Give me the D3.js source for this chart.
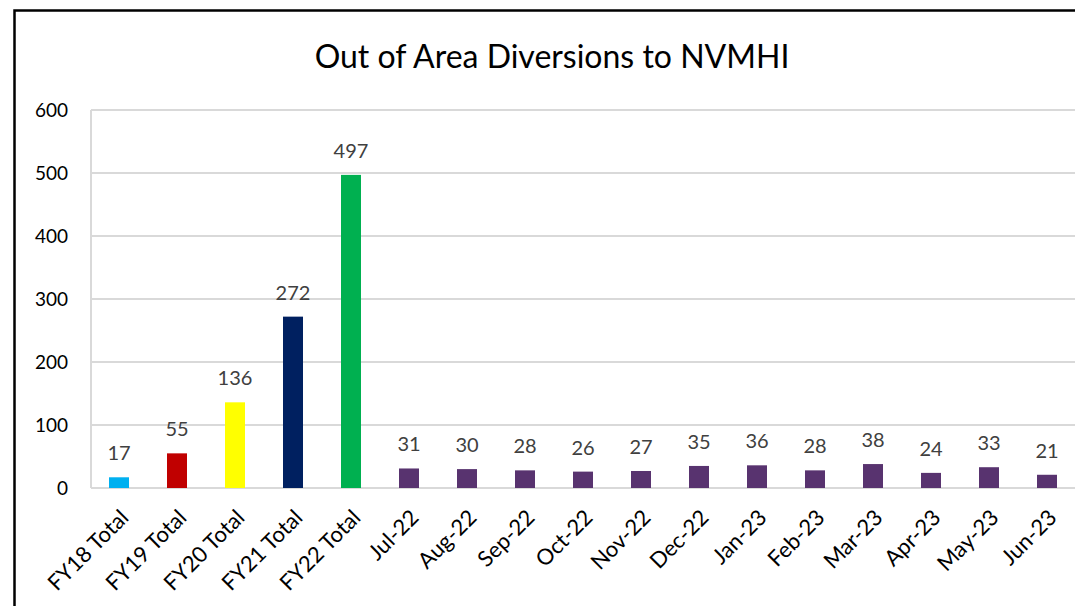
<!DOCTYPE html>
<html>
<head>
<meta charset="utf-8">
<script src="https://cdnjs.cloudflare.com/ajax/libs/d3/7.8.5/d3.min.js"></script>
<style>
  body { margin: 0; background: #fff; }
  svg text { font-family: Lato, "Open Sans", sans-serif; }
</style>
</head>
<body>
<div id="chart"></div>
<script>
'use strict';

// values
var categories = ['FY18 Total', 'FY19 Total', 'FY20 Total', 'FY21 Total', 'FY22 Total',
  'Jul-22', 'Aug-22', 'Sep-22', 'Oct-22', 'Nov-22', 'Dec-22',
  'Jan-23', 'Feb-23', 'Mar-23', 'Apr-23', 'May-23', 'Jun-23'];
var diversions = [17, 55, 136, 272, 497, 31, 30, 28, 26, 27, 35, 36, 28, 38, 24, 33, 21];
var yTicks = [0, 100, 200, 300, 400, 500, 600];
var barColours = ['#00b0f0', '#c00000', '#ffff00', '#002060', '#00b050'];
var monthColour = '#58336f';

function makeChart(containerSelector) {
  var W = 1075, H = 606;
  var left = 90, right = 1076, top = 110, bottom = 488;

  var svg = d3.select(containerSelector).append('svg')
    .attr('width', W)
    .attr('height', H);

  // outer chart border (cut off on right and bottom in the reference)
  svg.append('rect')
    .attr('x', 14.5).attr('y', 10.5)
    .attr('width', W + 20).attr('height', H + 20)
    .attr('fill', 'none')
    .attr('stroke', '#000')
    .attr('stroke-width', 2.5);

  svg.append('text')
    .attr('x', 552).attr('y', 68)
    .attr('text-anchor', 'middle')
    .style('font-size', '32px')
    .attr('fill', '#000')
    .text('Out of Area Diversions to NVMHI');

  var x = d3.scaleBand().domain(categories).range([left, right]).paddingInner(0).paddingOuter(0);
  var y = d3.scaleLinear().domain([0, 600]).range([bottom, top]);
  var barW = 20;

  // gridlines
  svg.selectAll('.grid')
    .data(yTicks)
    .enter().append('line')
    .attr('class', 'grid')
    .attr('x1', left + 1).attr('x2', W)
    .attr('y1', function(d) { return y(d); })
    .attr('y2', function(d) { return y(d); })
    .attr('stroke', '#d9d9d9')
    .attr('stroke-width', 2);

  svg.append('line')
    .attr('x1', left + 1).attr('x2', left + 1)
    .attr('y1', top).attr('y2', bottom)
    .attr('stroke', '#d9d9d9')
    .attr('stroke-width', 2);

  var yAxis = d3.axisLeft(y).tickValues(yTicks).tickSize(0).tickPadding(22);
  var gy = svg.append('g')
    .attr('transform', 'translate(' + left + ',0)')
    .call(yAxis);
  gy.select('.domain').remove();
  gy.selectAll('text')
    .style('font-size', '19px')
    .attr('fill', '#000');

  svg.selectAll('.bar')
    .data(diversions)
    .enter().append('rect')
    .attr('class', 'bar')
    .attr('x', function(d, i) { return x(categories[i]) + x.bandwidth() / 2 - barW / 2; })
    .attr('y', function(d) { return y(d); })
    .attr('width', barW)
    .attr('height', function(d) { return bottom - y(d); })
    .attr('fill', function(d, i) { return i < barColours.length ? barColours[i] : monthColour; });

  svg.selectAll('.val')
    .data(diversions)
    .enter().append('text')
    .attr('class', 'val')
    .attr('x', function(d, i) { return x(categories[i]) + x.bandwidth() / 2; })
    .attr('y', function(d) { return y(d) - 17; })
    .attr('text-anchor', 'middle')
    .style('font-size', '20px')
    .attr('fill', '#404040')
    .text(function(d) { return d; });

  var xAxis = d3.axisBottom(x).tickSize(0).tickPadding(0);
  var gx = svg.append('g')
    .attr('transform', 'translate(0,' + bottom + ')')
    .call(xAxis);
  gx.select('.domain').remove();
  gx.selectAll('text')
    .attr('text-anchor', 'end')
    .attr('dy', 0)
    .attr('transform', 'translate(11,31) rotate(-45)')
    .style('font-size', '22px')
    .attr('fill', '#000');
}

makeChart('#chart');
</script>
</body>
</html>
